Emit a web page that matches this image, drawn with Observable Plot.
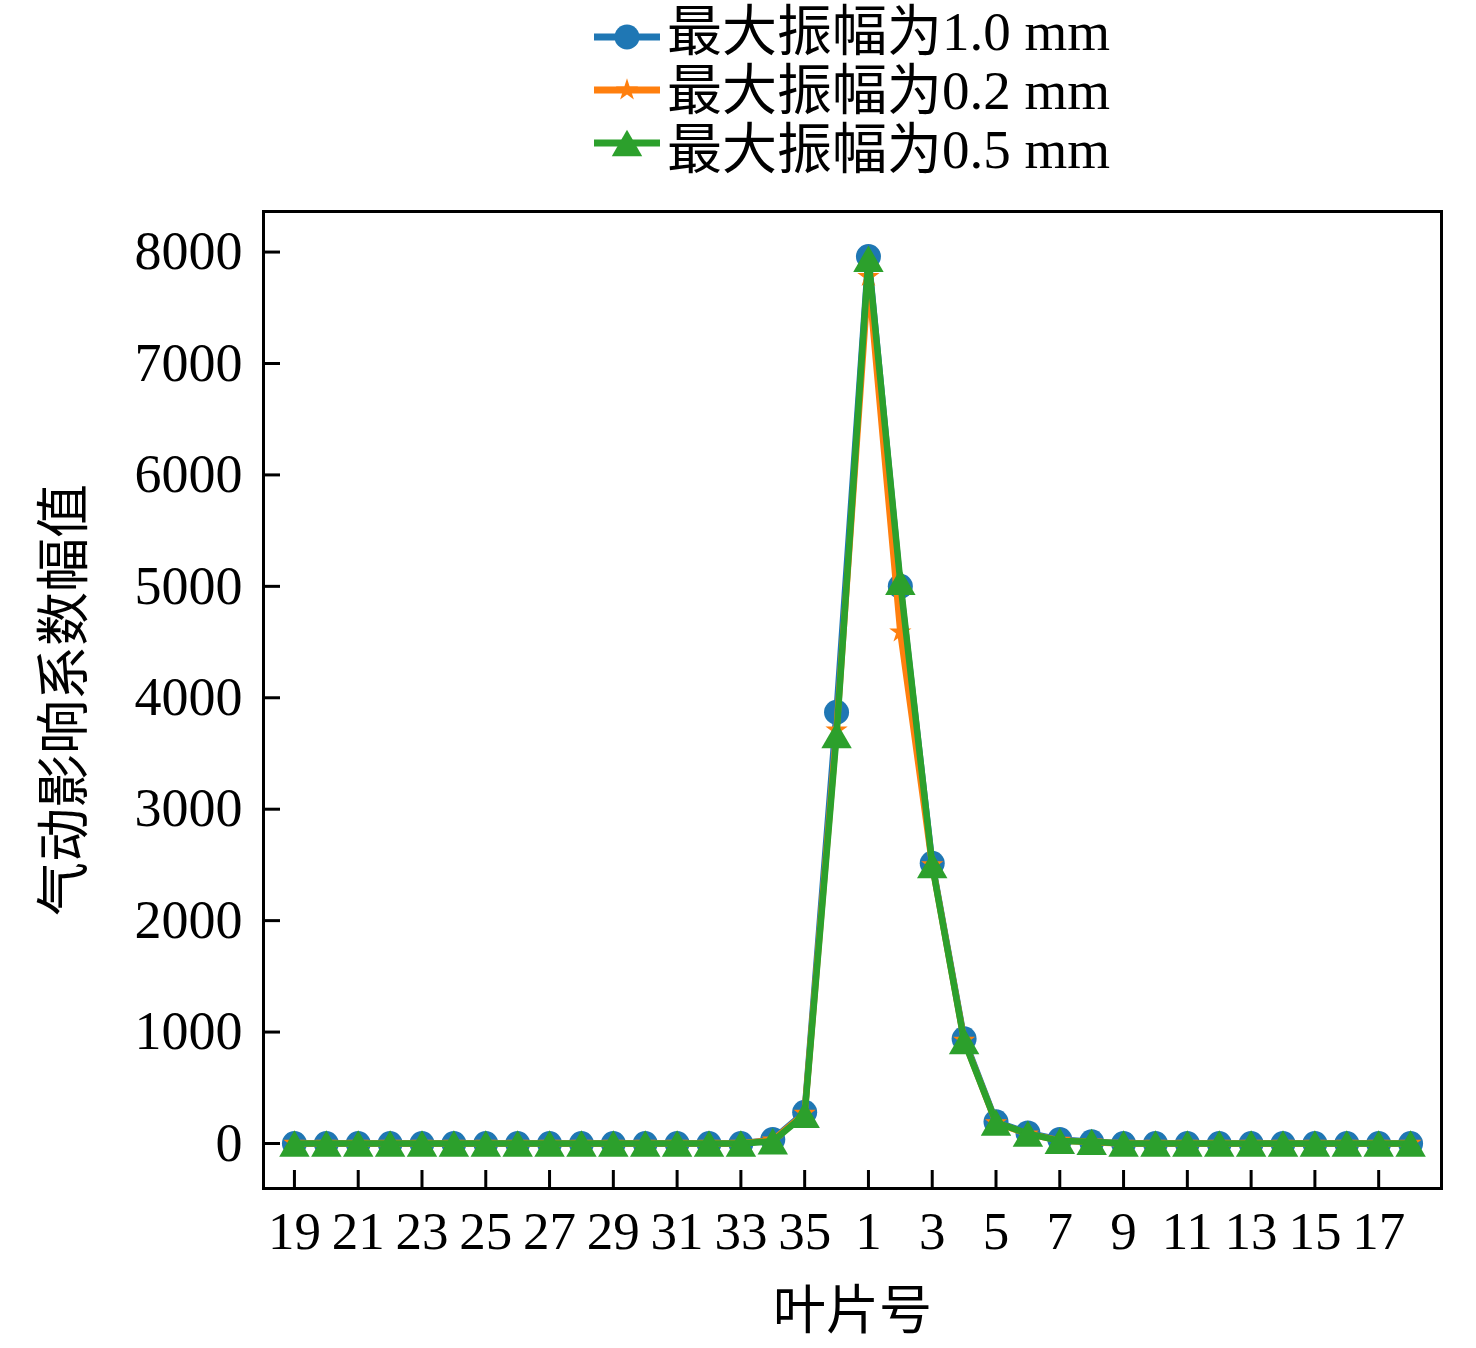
<!DOCTYPE html>
<html>
<head>
<meta charset="utf-8">
<script src="https://cdn.jsdelivr.net/npm/d3@7"></script>
<script src="https://cdn.jsdelivr.net/npm/@observablehq/plot@0.6"></script>
<style>
  html, body { margin: 0; padding: 0; background: #fff; }
  #wrap { width: 1476px; }
  #legend { display: block; }
  svg { overflow: visible; }
</style>
</head>
<body>
<div id="wrap"></div>
<script>
// ---- data ----
const bladeLabels = [19,20,21,22,23,24,25,26,27,28,29,30,31,32,33,34,35,36,1,2,3,4,5,6,7,8,9,10,11,12,13,14,15,16,17,18];
const amp10 = [0,0,0,0,0,0,0,0,0,0,0,0,0,0,0,35,280,3870,7960,5000,2515,940,195,95,35,15,0,0,0,0,0,0,0,0,0,0];
const amp02 = [0,0,0,0,0,0,0,0,0,0,0,0,0,0,0,30,270,3710,7780,4590,2500,925,185,85,28,12,0,0,0,0,0,0,0,0,0,0];
const amp05 = [0,0,0,0,0,0,0,0,0,0,0,0,0,0,0,20,258,3665,7940,5040,2498,920,188,88,23,15,0,0,0,0,0,0,0,0,0,0];
const seriesNames = ["最大振幅为1.0 mm", "最大振幅为0.2 mm", "最大振幅为0.5 mm"];
const seriesColors = ["#1f77b4", "#ff7f0e", "#2ca02c"];
const seriesSymbols = ["circle", "star", "triangle"];
const yTicks = [0,1000,2000,3000,4000,5000,6000,7000,8000];
const xTickIdx = [0,2,4,6,8,10,12,14,16,18,20,22,24,26,28,30,32,34];
const xLabel = "叶片号";
const yLabel = "气动影响系数幅值";

const FONT = '"Liberation Serif", "Times New Roman", "Noto Sans CJK SC", serif';
const seriesValues = [amp10, amp02, amp05];
const rowsFor = vals => vals.map((v, i) => ({i, blade: bladeLabels[i], v}));
const symR = {circle: 12.5, star: 7, triangle: 11.3};
const symDy = {circle: 0, star: 0, triangle: 4.4};

// ---- legend (above the plot svg) ----
const wrap = d3.select("#wrap");
const leg = wrap.append("svg").attr("id", "legend").attr("width", 1476).attr("height", 190);
const swatchY = [37, 90, 143];
const textBase = [50, 109, 168];
seriesNames.forEach((name, k) => {
  const g = leg.append("g");
  g.append("line").attr("x1", 594).attr("x2", 660).attr("y1", swatchY[k]).attr("y2", swatchY[k])
    .attr("stroke", seriesColors[k]).attr("stroke-width", 7);
  const sym = {circle: d3.symbolCircle, star: d3.symbolStar, triangle: d3.symbolTriangle}[seriesSymbols[k]];
  const r = symR[seriesSymbols[k]];
  g.append("path").attr("d", d3.symbol(sym, Math.PI * r * r)())
    .attr("transform", `translate(627,${swatchY[k] + symDy[seriesSymbols[k]]})`)
    .attr("fill", seriesColors[k]);
  g.append("text").attr("x", 667).attr("y", textBase[k])
    .style("font-family", FONT).style("font-size", "55px").attr("fill", "#000")
    .text(name);
});

// ---- chart ----
const marks = [];
seriesValues.forEach((vals, k) => {
  const rows = rowsFor(vals);
  marks.push(Plot.line(rows, {x: "i", y: "v", stroke: seriesColors[k], strokeWidth: 6.5}));
  marks.push(Plot.dot(rows, {x: "i", y: "v", symbol: () => seriesSymbols[k], r: symR[seriesSymbols[k]],
    fill: seriesColors[k], stroke: "none", dy: symDy[seriesSymbols[k]]}));
});

const chart = Plot.plot({
  width: 1476,
  height: 1158,
  marginLeft: 263,
  marginRight: 35,
  marginTop: 21,
  marginBottom: 160,
  style: {fontFamily: FONT, fontSize: "53px", color: "#000", background: "#fff"},
  x: {domain: [-0.97, 35.97]},
  y: {domain: [-404, 8364]},
  symbol: {type: "identity"},
  marks: [
    Plot.axisX({ticks: xTickIdx, tickFormat: i => String(bladeLabels[i]), tickSize: -18, tickPadding: 41,
      strokeWidth: 3, label: null, fontSize: 53}),
    Plot.axisY({ticks: yTicks, tickFormat: d => String(d), tickSize: -17, tickPadding: 38,
      strokeWidth: 3, label: null, fontSize: 54}),
    ...marks,
    Plot.frame({stroke: "#000", strokeWidth: 3}),
    Plot.text([xLabel], {frameAnchor: "bottom", dy: 124, text: d => d, fontSize: 53, lineAnchor: "middle", textAnchor: "middle", fill: "#000"}),
    Plot.text([yLabel], {frameAnchor: "left", dx: -198, rotate: -90, text: d => d, fontSize: 54, lineAnchor: "middle", textAnchor: "middle", fill: "#000"})
  ]
});
document.getElementById("wrap").appendChild(chart);
</script>
</body>
</html>
